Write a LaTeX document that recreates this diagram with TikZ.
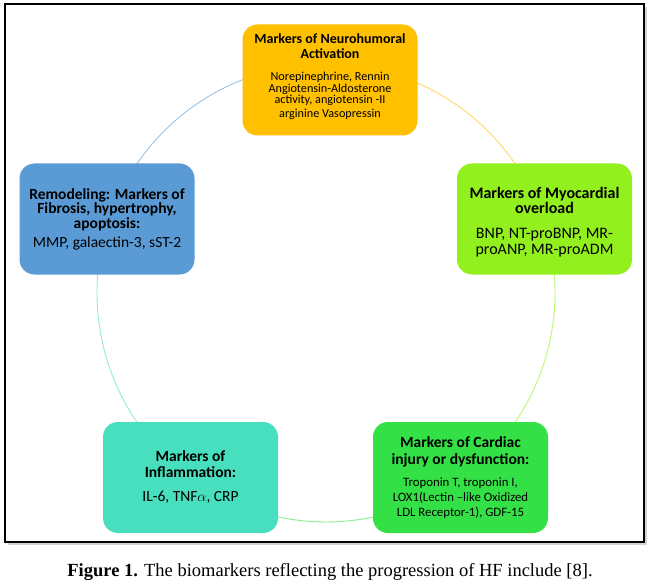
\documentclass[tikz,border=0pt]{standalone}
\usepackage{fontspec}
\setmainfont{Carlito}
\newfontfamily\capfont{Liberation Serif}
\usepackage{tikz}
\usetikzlibrary{shadows}
\usetikzlibrary{calc}
\definecolor{neurocol}{RGB}{255,192,0}
\definecolor{myocol}{RGB}{146,240,30}
\definecolor{remodcol}{RGB}{91,155,213}
\definecolor{injurycol}{RGB}{51,225,70}
\definecolor{inflamcol}{RGB}{72,223,190}
\tikzstyle{markerbox}=[rounded corners=15pt,minimum width=175pt,minimum height=111pt,inner sep=0pt,align=center,execute at begin node={\lineskiplimit=-20pt}]
\tikzstyle{ring} = [draw,line width=0.9pt]
\tikzstyle{frame} = [draw,line width=1.3pt,fill=white,drop shadow={shadow xshift=3pt,shadow yshift=-3pt,opacity=0.35}]
\newcommand{\bigtitle}{\fontsize{14}{15}\selectfont\bfseries}

\begin{document}
\begin{tikzpicture}[x=1pt,y=1pt]
   \useasboundingbox (0,0) rectangle (655,-585);
   \path[frame] (5,-4) rectangle (644,-542);

   % points on the ring
   \coordinate (ctr) at (326,-293);
   \foreach \ang/ \name in {90/neuro, 18.7/myo, -53.9/injury, -126.3/inflam, 161.3/remod}
        \coordinate (p-\name) at ($(ctr)+(\ang:229)$);

   \foreach \source/ \dest/ \col/ \a/ \b in {neuro/myo/neurocol/90/18.7, myo/injury/myocol/18.7/-53.9, injury/inflam/injurycol/-53.9/-126.3, inflam/remod/inflamcol/-126.3/-198.7, remod/neuro/remodcol/161.3/90}
        \draw[ring,\col!60] (p-\source) arc[start angle=\a,end angle=\b,radius=229];

   \node[markerbox,fill=neurocol,font=\fontsize{12.2}{11.5}\selectfont] (neuro) at (330,-80)
      {\bigtitle Markers of Neurohumoral\\[3.5pt]
       \bigtitle Activation\\[10.5pt]
       Norepinephrine, Rennin\\
       Angiotensin-Aldosterone\\
       activity, angiotensin -II\\[2.5pt]
       arginine Vasopressin\rule[-8pt]{0pt}{0pt}};
   \node[markerbox,fill=myocol,font=\fontsize{16}{16}\selectfont] (myo) at (544.5,-219)
      {\rule{0pt}{17pt}\bfseries Markers of Myocardial\\[-1pt]
       \bfseries overload\\[9pt]
       BNP, NT-proBNP, MR-\\
       proANP, MR-proADM};
   \node[markerbox,fill=remodcol,font=\fontsize{15.5}{14.5}\selectfont] (remod) at (107,-219)
      {\bfseries Remodeling: Markers of\\
       \bfseries Fibrosis, hypertrophy,\\
       \bfseries apoptosis:\\[4.5pt]
       MMP, galaectin-3, sST-2};
   \node[markerbox,fill=injurycol,font=\fontsize{12.8}{15}\selectfont] (injury) at (460.5,-477.5)
      {\fontsize{15.5}{17}\selectfont\bfseries Markers of Cardiac\\[2pt]
       \fontsize{15.5}{17}\selectfont\bfseries injury or dysfunction:\\[7pt]
       Troponin T, troponin I,\\
       LOX1(Lectin --like Oxidized\\
       LDL Receptor-1), GDF-15};
   \node[markerbox,fill=inflamcol,font=\fontsize{15.5}{16}\selectfont] (inflam) at (190.5,-477.5)
      {\bfseries Markers of\\
       \bfseries Inflammation:\\[8pt]
       IL-6, TNF$\alpha$, CRP};

   \node (caption) at (330,-572) {\capfont\fontsize{18.5}{20}\selectfont\bfseries Figure 1. \mdseries The biomarkers reflecting the progression of HF include [8].};
\end{tikzpicture}
\end{document}
